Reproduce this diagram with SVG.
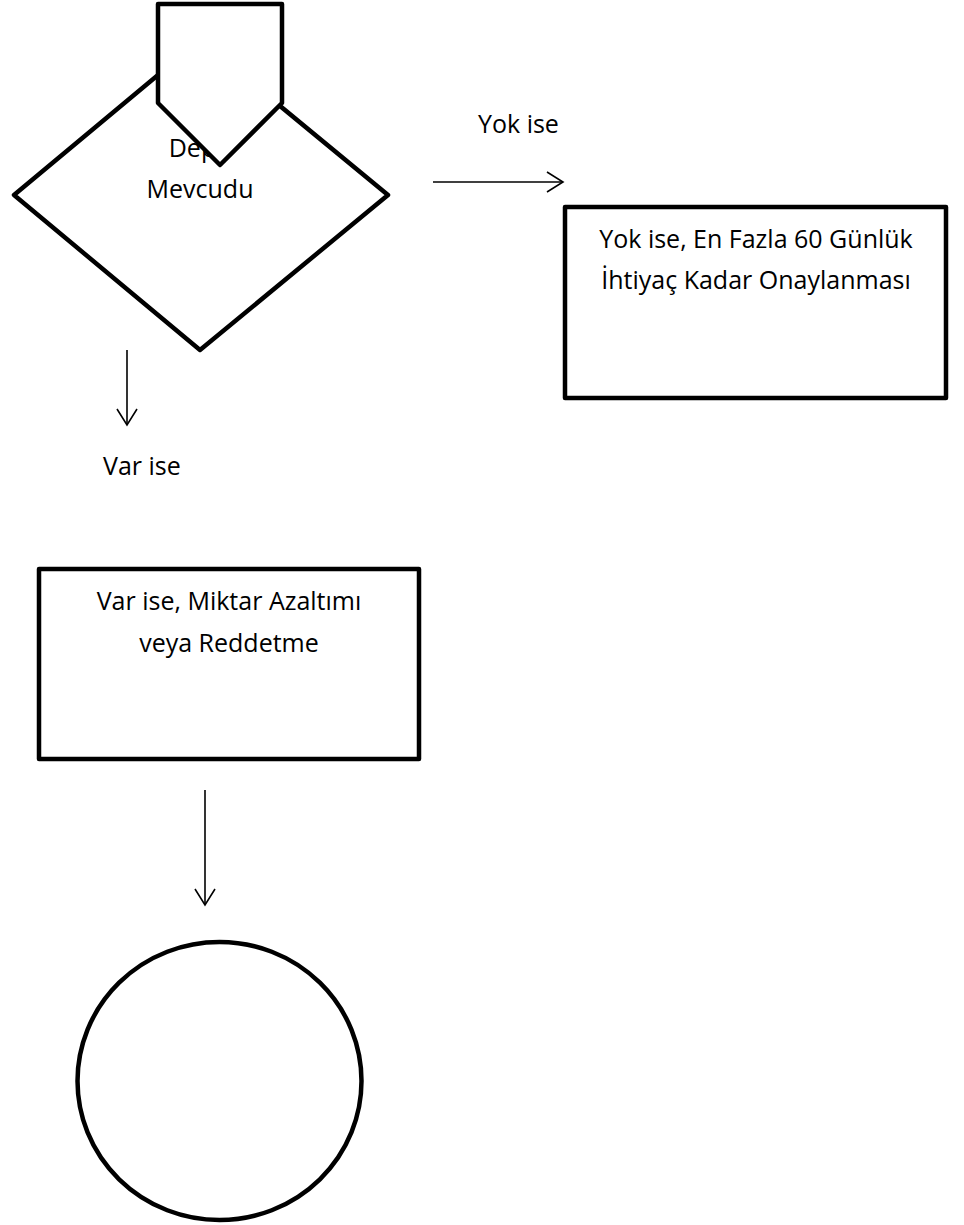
<svg xmlns="http://www.w3.org/2000/svg" width="964" height="1225" viewBox="0 0 964 1225">
<style>
.shape{fill:#fff;stroke:#000;stroke-width:4.5;stroke-linejoin:round}
.conn{fill:none;stroke:#000;stroke-width:1.6}
text{font-family:"Open Sans","Liberation Sans",sans-serif;font-size:25px;fill:#000}
.c{text-anchor:middle}
</style>
<defs>
<marker id="arr" viewBox="0 0 20 24" refX="18" refY="12" markerWidth="20" markerHeight="24" markerUnits="userSpaceOnUse" orient="auto">
<path d="M2,2 L18,12 L2,22" fill="none" stroke="#000" stroke-width="1.6"/>
</marker>
</defs>
<rect width="964" height="1225" fill="#fff"/>
<g id="decision">
<polygon class="shape" points="200,40 388,195 200,350 14,195"/>
<text class="c" x="200" y="157">Depo</text>
<text class="c" x="200" y="198">Mevcudu</text>
</g>
<g id="offpage">
<polygon class="shape" points="158,4 282,4 282,103 220,165 158,103"/>
</g>
<g id="yok-box">
<rect class="shape" x="565" y="207" width="381" height="191"/>
<text class="c" x="756" y="248">Yok ise, En Fazla 60 Günlük</text>
<text class="c" x="756" y="289">İhtiyaç Kadar Onaylanması</text>
</g>
<g id="var-box">
<rect class="shape" x="39" y="569" width="380" height="190"/>
<text class="c" x="229" y="610">Var ise, Miktar Azaltımı</text>
<text class="c" x="229" y="652">veya Reddetme</text>
</g>
<g id="end">
<ellipse class="shape" cx="219.5" cy="1081" rx="142" ry="139"/>
</g>
<g id="connectors">
<line class="conn" x1="433" y1="182" x2="563" y2="182" marker-end="url(#arr)"/>
<line class="conn" x1="127" y1="350" x2="127" y2="425" marker-end="url(#arr)"/>
<line class="conn" x1="205" y1="790" x2="205" y2="905" marker-end="url(#arr)"/>
</g>
<g id="labels">
<text x="478" y="133">Yok ise</text>
<text x="103" y="475">Var ise</text>
</g>
</svg>
